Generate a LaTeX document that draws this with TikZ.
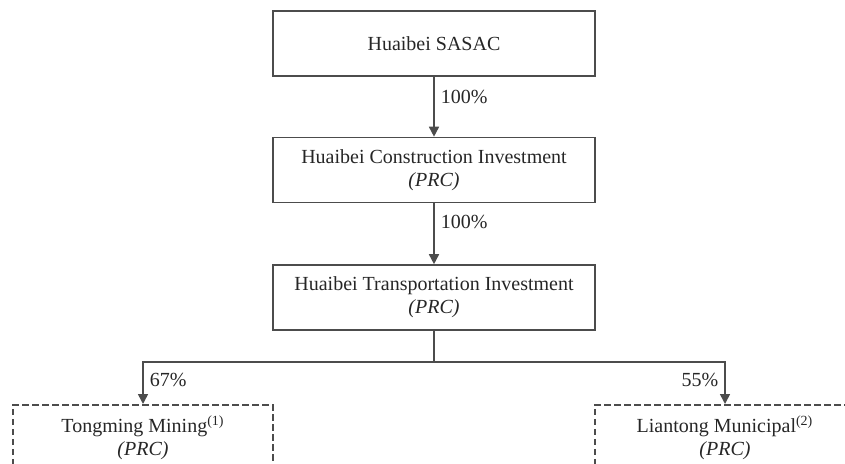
\documentclass[tikz,border=0pt]{standalone}
\usepackage{fontspec}
\setmainfont{Liberation Serif}
\usetikzlibrary{arrows.meta}

\tikzset{
  entity/.style={draw=black!70, line width=0.8pt, minimum width=161pt, minimum height=32.5pt,
    inner sep=0pt, align=center, text=black!85, font=\fontsize{10}{11.5}\selectfont},
  subsid/.style={entity, dash pattern=on 3.3pt off 1.7pt, minimum width=130pt,
    minimum height=33pt, anchor=north},
  own/.style={draw=black!70, line width=0.8pt},
  ownarrow/.style={own, -{Triangle[length=5pt,width=5pt]}},
  pct/.style={text=black!85, font=\fontsize{10}{12}\selectfont, inner sep=3pt}
}

\begin{document}
\begin{tikzpicture}[x=0.5pt,y=-0.5pt]
  \useasboundingbox (0,0) rectangle (845,464);
  \clip (0,0) rectangle (845,464);

  % Shareholders
  \node[entity] (sasac) at (434,43.5) {Huaibei SASAC};
  \node[entity] (constr) at (434,170) {Huaibei Construction Investment\\\textit{(PRC)}};
  \node[entity] (transp) at (434,297.5) {Huaibei Transportation Investment\\\textit{(PRC)}};

  % Subsidiaries
  \node[subsid] (tongming) at (143,404) {Tongming Mining\textsuperscript{(1)}\\\textit{(PRC)}};
  \node[subsid] (liantong) at (725,404) {Liantong Municipal\textsuperscript{(2)}\\\textit{(PRC)}};

  % Ownership
  \draw[ownarrow] (sasac) -- node[pct,right,pos=0.33] {100\%} (constr);
  \draw[ownarrow] (constr) -- node[pct,right,pos=0.3] {100\%} (transp);

  \coordinate (split) at (434,362);
  \draw[own] (transp) -- (split);
  \draw[ownarrow] (split) -| node[pct,right,pos=0.71] {67\%} (tongming.north);
  \draw[ownarrow] (split) -| node[pct,left,pos=0.71] {55\%} (liantong.north);
\end{tikzpicture}
\end{document}
